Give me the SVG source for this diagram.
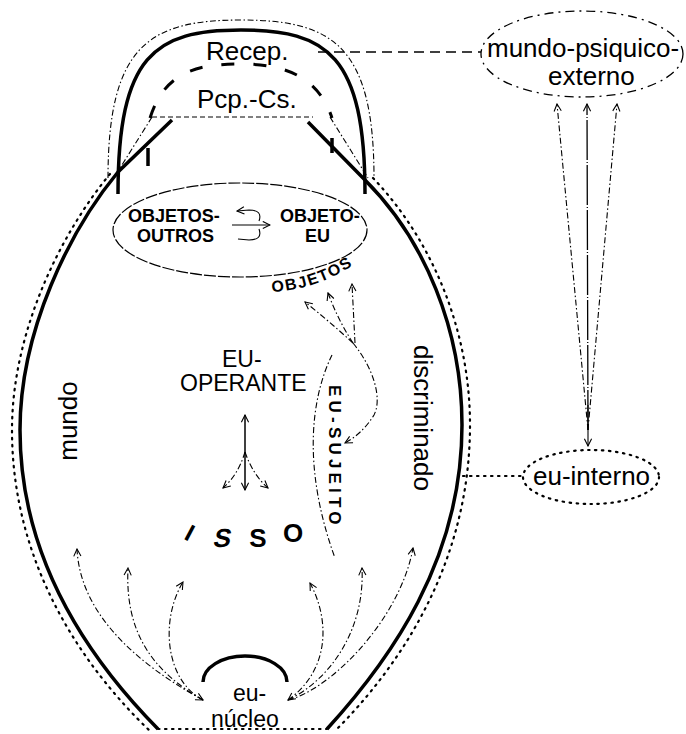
<svg xmlns="http://www.w3.org/2000/svg" width="686" height="734" viewBox="0 0 686 734">
<style>
text{font-family:"Liberation Sans",Arial,sans-serif;fill:#000}
.t26{font-size:26px}
.t23{font-size:23px}
.b18{font-size:18px;font-weight:bold}
.thick{fill:none;stroke:#000;stroke-width:3.5}
.dots{fill:none;stroke:#000;stroke-width:2.2;stroke-dasharray:1.5 5.5;stroke-linecap:round}
.dd{fill:none;stroke:#000;stroke-width:1.1;stroke-dasharray:6 2.5 1.5 2.5}
.thin{fill:none;stroke:#000;stroke-width:1.1}
.arr{fill:none;stroke:#000;stroke-width:1.1;stroke-dasharray:6 2.5 1.5 2.5;marker-end:url(#ah)}
</style>
<defs>
<marker id="ah" viewBox="0 0 10 10" refX="9" refY="5" markerWidth="9" markerHeight="9" markerUnits="userSpaceOnUse" orient="auto-start-reverse">
<path d="M1,1 L9,5 L1,9" fill="none" stroke="#000" stroke-width="1.2"/>
</marker>
</defs>
<rect width="686" height="734" fill="#fff"/>

<g id="lens">
<path class="thick" d="M172,120 L118,172 C70,230 20,330 20,430 C20,560 90,660 158,729"/>
<path class="thick" d="M308,122 L365,180 C425,240 462,330 462,425 C462,560 390,660 327,729"/>
<path class="dots" d="M110,174 C62,232 12,330 12,430 C12,565 84,668 150,731"/>
<path class="dots" d="M373,178 C432,240 470,330 470,425 C470,565 398,668 335,731"/>
<path class="dots" d="M158,729 L327,729"/>
<path class="dd" d="M108,178 C108,45 150,20 241,20 C332,20 374,45 374,178"/>
<path class="thick" stroke-width="3" d="M148,148 L148,166 M332,138 L332,153"/>
</g>

<g id="recep">
<path class="thick" d="M118,194 C118,55 155,30 241,30 C327,30 365,55 365,194"/>
<text class="t26" x="206" y="60">Recep.</text>
</g>

<g id="pcp-cs">
<path fill="none" stroke="#000" stroke-width="3" stroke-dasharray="13 19" d="M150,118 C165,70 200,64 241,64 C282,64 318,75 332,118"/>
<path fill="none" stroke="#000" stroke-width="1" stroke-dasharray="5 3" d="M152,117 L313,117"/>
<path class="dd" d="M152,117 L115,176 M330,117 L368,178"/>
<text class="t26" x="197" y="108">Pcp.-Cs.</text>
</g>

<g id="mundo-psiquico-externo">
<ellipse cx="582" cy="54" rx="101" ry="43" fill="none" stroke="#000" stroke-width="1.3" stroke-dasharray="9 5 2 5"/>
<text class="t26" x="487" y="57">mundo-psiquico-</text>
<text class="t26" x="548" y="85">externo</text>
</g>

<g id="eu-interno">
<ellipse cx="591" cy="477" rx="68" ry="27" class="dots"/>
<text class="t26" x="533" y="485">eu-interno</text>
</g>

<g id="objetos">
<ellipse cx="240" cy="230" rx="127" ry="47" fill="none" stroke="#000" stroke-width="1.2" stroke-dasharray="12 2"/>
<text class="b18" x="128" y="222">OBJETOS-</text>
<text class="b18" x="137" y="242">OUTROS</text>
<text class="b18" x="280" y="222">OBJETO-</text>
<text class="b18" x="305" y="242">EU</text>
<path class="thin" d="M259,221 Q263,210 249,210 L237,211" marker-end="url(#ah)"/>
<path class="thin" d="M232,225 L270,225" marker-end="url(#ah)"/>
<path class="thin" d="M259,229 Q263,240 249,240 L238,239"/>
<path id="objp" fill="none" d="M272,292 Q326,289 368,254"/>
<text font-size="16" font-weight="bold" letter-spacing="1.6"><textPath href="#objp">OBJETOS</textPath></text>
</g>

<g id="eu-operante">
<text class="t23" x="222" y="367">EU-</text>
<text class="t23" x="180" y="391">OPERANTE</text>
</g>

<g id="mundo">
<text class="t26" text-anchor="middle" transform="translate(77,421) rotate(-90)">mundo</text>
</g>

<g id="discriminado">
<text class="t26" text-anchor="middle" transform="translate(414,418) rotate(90)">discriminado</text>
</g>

<g id="eu-sujeito">
<text font-size="17" font-weight="bold" letter-spacing="4.2" transform="translate(329,385) rotate(90)">EU-SUJEITO</text>
</g>

<g id="isso">
<text font-size="24" font-weight="bold" text-anchor="middle" transform="translate(186,540) rotate(28)">I</text>
<text font-size="26" font-weight="bold" text-anchor="middle" transform="translate(221,547) skewX(-12)">S</text>
<text font-size="26" font-weight="bold" text-anchor="middle" x="258" y="547">S</text>
<text font-size="26" font-weight="bold" text-anchor="middle" x="293" y="542">O</text>
</g>

<g id="eu-nucleo">
<path class="thick" d="M203,682 A42,26 0 0 1 287,682"/>
<text font-size="23" x="233" y="701">eu-</text>
<text font-size="23" x="211" y="727">núcleo</text>
</g>

<g id="connectors">
<path fill="none" stroke="#000" stroke-width="1.3" stroke-dasharray="10 6" d="M318,52 L481,52"/>
<path class="dots" d="M463,476 L522,476"/>
<path class="arr" d="M588,430 L557,104"/>
<path fill="none" stroke="#000" stroke-width="1.3" stroke-dasharray="40 2 1 2" d="M588,430 L587,104" marker-end="url(#ah)"/>
<path class="arr" d="M588,430 L617,104"/>
<path class="thin" d="M588,405 L588,446" marker-end="url(#ah)"/>
<path fill="none" stroke="#000" stroke-width="1.5" d="M245,490 L245,415" marker-start="url(#ah)" marker-end="url(#ah)"/>
<path class="arr" d="M245,452 Q238,475 223,488"/>
<path class="arr" d="M245,452 Q253,475 268,488"/>
<path class="arr" d="M353,343 Q330,322 305,302"/>
<path class="arr" d="M353,343 Q338,320 328,293"/>
<path class="arr" d="M355,343 L352,284"/>
<path class="arr" d="M353,343 C375,370 382,400 374,415 C366,428 356,437 345,443"/>
<path class="dd" stroke-width="1.3" d="M332,355 C310,400 303,470 335,558"/>
<path class="arr" marker-start="url(#ah)" d="M203,700 C130,660 80,610 77,549"/>
<path class="arr" d="M203,700 C150,670 125,630 128,568"/>
<path class="arr" d="M203,700 C165,680 160,620 183,582"/>
<path class="arr" marker-start="url(#ah)" d="M288,700 C330,670 330,620 310,583"/>
<path class="arr" d="M288,700 C330,680 365,630 362,568"/>
<path class="arr" d="M288,700 C330,690 400,620 413,548"/>
</g>
</svg>
